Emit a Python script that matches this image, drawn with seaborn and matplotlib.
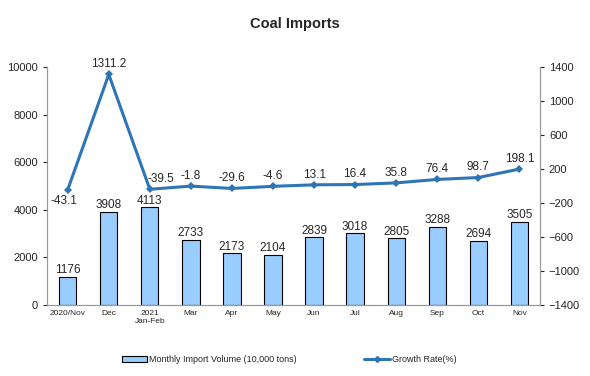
import pandas as pd
import numpy as np
import matplotlib.pyplot as plt
import seaborn as sns
from matplotlib.patches import Patch
from matplotlib.lines import Line2D

# Datos
months = ['2020/Nov', 'Dec', '2021\nJan-Feb', 'Mar', 'Apr', 'May', 'Jun',
          'Jul', 'Aug', 'Sep', 'Oct', 'Nov']
volume = [1176, 3908, 4113, 2733, 2173, 2104, 2839, 3018, 2805, 3288, 2694, 3505]
growth = [-43.1, 1311.2, -39.5, -1.8, -29.6, -4.6, 13.1, 16.4, 35.8, 76.4, 98.7, 198.1]

df = pd.DataFrame({'month': months, 'volume': volume, 'growth': growth})
df['pos'] = np.arange(len(df))

sns.set_style('white')
plt.rcParams['font.family'] = ['Liberation Sans', 'DejaVu Sans']

fig = plt.figure(figsize=(5.9, 3.76), dpi=100)
ax = fig.add_axes([0.08, 0.189, 0.835, 0.633])

sns.barplot(data=df, x='month', y='volume', color='#99CCFF', saturation=1,
            edgecolor='black', linewidth=0.8, width=0.42, ax=ax)
ax.set_ylim(0, 10000)
ax.set_yticks(range(0, 10001, 2000))
ax.set_xlim(-0.5, len(df) - 0.5)
ax.set_xlabel('')
ax.set_ylabel('')
ax.tick_params(axis='x', labelsize=6, length=0, pad=4)
ax.tick_params(axis='y', labelsize=8, length=3, direction='out', left=True)
for i, v in enumerate(volume):
    ax.text(i, v + 20, str(v), ha='center', va='bottom', fontsize=8.5)

ax2 = ax.twinx()
sns.lineplot(data=df, x='pos', y='growth', color='#2E75B6', linewidth=2.2,
             marker='D', markersize=4, markeredgewidth=0, ax=ax2)
ax2.set_ylim(-1400, 1400)
ax2.set_yticks(range(-1400, 1401, 400))
ax2.set_xlim(-0.5, len(df) - 0.5)
ax2.set_xlabel('')
ax2.set_ylabel('')
ax2.tick_params(axis='y', labelsize=8, length=3, direction='out', right=True)
for i, g in enumerate(growth):
    if i == 0:
        ax2.text(i - 0.1, g - 60, f'{g:.1f}', ha='center', va='top', fontsize=8.5)
    elif i == 2:
        ax2.text(i + 0.28, g + 50, f'{g:.1f}', ha='center', va='bottom', fontsize=8.5)
    else:
        ax2.text(i, g + 50, f'{g:.1f}', ha='center', va='bottom', fontsize=8.5)

for a in (ax, ax2):
    a.spines['top'].set_visible(False)
    for s in ('left', 'right', 'bottom'):
        a.spines[s].set_color('#999999')
        a.spines[s].set_linewidth(0.8)

fig.suptitle('Coal Imports', fontsize=10.5, fontweight='bold', y=0.955)

h1 = Patch(facecolor='#99CCFF', edgecolor='black', linewidth=0.8,
           label='Monthly Import Volume (10,000 tons)')
h2 = Line2D([], [], color='#2E75B6', linewidth=2.2, marker='D', markersize=3,
            label='Growth Rate(%)')
fig.legend(handles=[h1, h2], loc='lower center', bbox_to_anchor=(0.49, 0.01),
           ncol=2, frameon=False, fontsize=6.5, columnspacing=7.5,
           handlelength=2.8, handletextpad=0.2)

plt.savefig('out.png', dpi=100)
